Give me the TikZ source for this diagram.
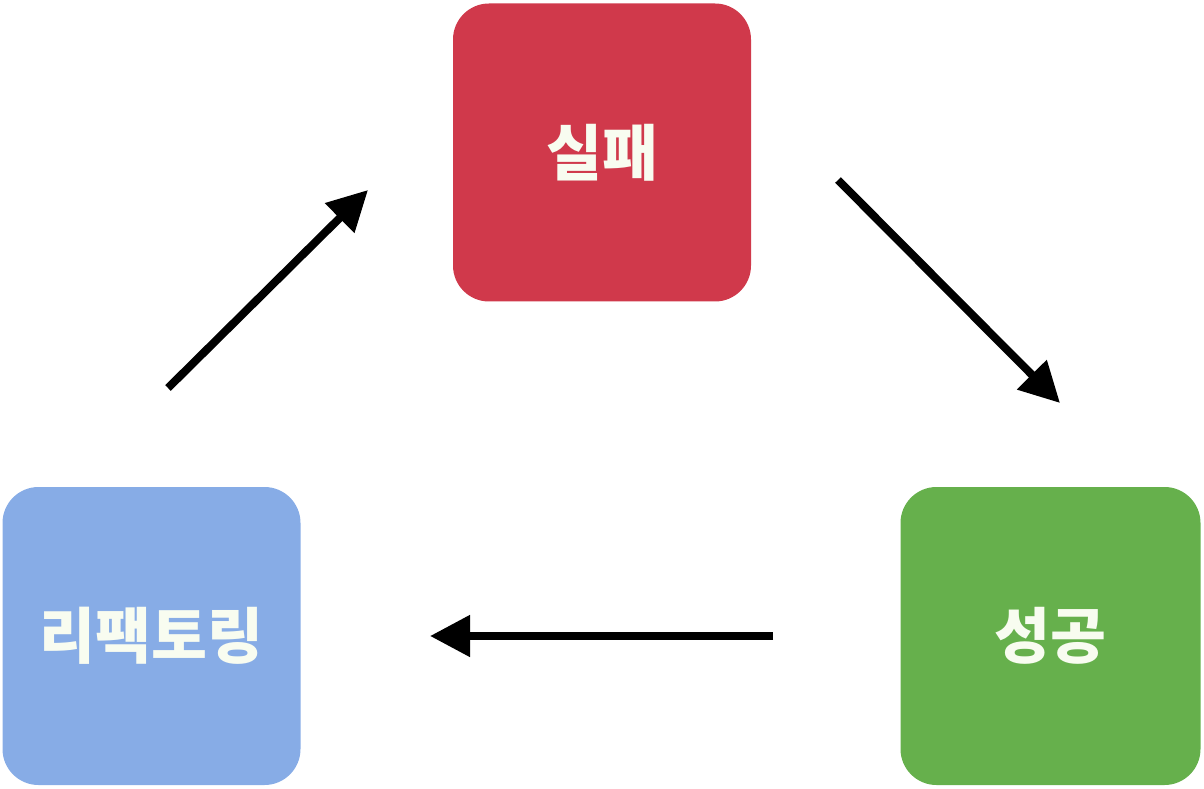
\documentclass[tikz,border=0pt]{standalone}
\usepackage{fontspec}
\newfontfamily\kr{Noto Sans CJK KR}
\usepackage{tikz}
\usetikzlibrary{arrows.meta}

\definecolor{failred}{HTML}{D0394B}
\definecolor{refblue}{HTML}{87ACE6}
\definecolor{sucgreen}{HTML}{66B04C}
\definecolor{txtwhite}{HTML}{F8FCF0}

\tikzset{
  stage/.style={rounded corners=18pt,minimum width=149pt,minimum height=149pt,
    inner sep=0pt,text=txtwhite,font=\kr\bfseries\fontsize{30.4}{34}\selectfont},
  flow/.style={line width=4pt,-{Triangle[length=20pt,width=20pt]}}
}

\begin{document}
\begin{tikzpicture}[x=1pt,y=1pt]

  \useasboundingbox (0,0) rectangle (602,394);

  \node (fail) at (301,317.75) [stage,fill=failred] {실패};
  \node (success) at (525.25,76) [stage,fill=sucgreen,minimum width=150pt] {성공};
  \node (refactor) at (75.75,76) [stage,fill=refblue] {리팩토링};

  \coordinate (a1) at (84,200);
  \coordinate (a2) at (184,299);
  \coordinate (b1) at (419,304);
  \coordinate (b2) at (530,192.5);
  \coordinate (c1) at (386.5,76);
  \coordinate (c2) at (215,76);

\draw[flow] (a1) to (a2);
\draw[flow] (b1) to (b2);
\draw[flow] (c1) to (c2);
\end{tikzpicture}
\end{document}
